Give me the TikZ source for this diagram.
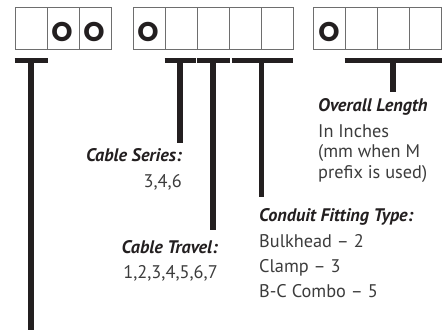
\documentclass[tikz,border=0pt]{standalone}
\usepackage{fontspec}
\setmainfont{PT Sans}
\newfontfamily\cellfont{Poppins}[BoldFont={Poppins Bold}]
\usetikzlibrary{calc}
\definecolor{barblack}{HTML}{231F20}
\definecolor{cellgray}{HTML}{6E6E6E}
\definecolor{bodygray}{HTML}{3C3C3C}

\begin{document}
\begin{tikzpicture}[line cap=butt,line join=miter,x=1pt,y=-1pt,
  cell/.style={draw=cellgray,line width=1pt,minimum width=32pt,minimum height=41.5pt,inner sep=0pt},
  digit/.style={font=\cellfont\bfseries\fontsize{27}{27}\selectfont,inner sep=0pt,text=barblack},
  bar/.style={draw=barblack,line width=5pt},
  stem/.style={draw=barblack,line width=5.5pt},
  title/.style={font=\bfseries\itshape\fontsize{18.2}{18.2}\selectfont,inner sep=0pt,text=barblack},
  body/.style={font=\fontsize{18.3}{18.3}\selectfont,inner sep=0pt,text=bodygray}]
\useasboundingbox (0,0) rectangle (445,333);

% code boxes
\foreach \i/\x in {1/31,2/63,3/95}
  \node[cell] (a\i) at (\x,28.5) {};
\foreach \i/\x in {1/149,2/181,3/213,4/245,5/277}
  \node[cell] (b\i) at (\x,28.5) {};
\foreach \i/\x in {1/329,2/361,3/393,4/425}
  \node[cell] (c\i) at (\x,28.5) {};
\node[digit] (a2o) at ([xshift=-1pt,yshift=-3pt]a2.center) {O};
\node[digit] (a3o) at ([xshift=-1pt,yshift=-3pt]a3.center) {O};
\node[digit] (b1o) at ([xshift=-1pt,yshift=-3pt]b1.center) {O};
\node[digit] (c1o) at ([xshift=0pt,yshift=-3pt]c1.center) {O};

% brackets under the boxes
\draw[bar] ([xshift=0pt,yshift=-10.5pt]a1.south west) -- ([yshift=-10.5pt]a1.south east);
\draw[bar] ([xshift=0pt,yshift=-10.5pt]b2.south west) -- ([xshift=-2pt,yshift=-10.5pt]b2.south east);
\draw[bar] ([xshift=0pt,yshift=-10.5pt]b3.south west) -- ([yshift=-10.5pt]b3.south east);
\draw[bar] ([xshift=3pt,yshift=-10.5pt]b4.south west) -- ([xshift=-1pt,yshift=-10.5pt]b5.south east);
\draw[bar] ([yshift=-10.5pt]c2.south west) -- ([yshift=-10.5pt]c4.south east);

\coordinate (top1) at ([yshift=-10.5pt]a1.south);
\coordinate (top2) at ([xshift=-1pt,yshift=-10.5pt]b2.south);
\coordinate (top3) at ([yshift=-10.5pt]b3.south);
\coordinate (top4) at ([yshift=-10.5pt]b4.south east);
\coordinate (top5) at ([yshift=-10.5pt]c3.south);
\coordinate (end1) at (top1 |- 0,330);
\coordinate (end2) at (top2 |- 0,143);
\coordinate (end3) at (top3 |- 0,230);
\coordinate (end4) at (top4 |- 0,197);
\coordinate (end5) at (top5 |- 0,92);
\foreach \k in {1,...,5}
  \draw[stem] (top\k) -- (end\k);

% labels
\node[title,anchor=base west] (lenT) at (318,111) {Overall Length};
\node[body,anchor=base west] (len1) at (318,137) {In Inches};
\node[body,anchor=base west] (len2) at (318,157.5) {(mm when M};
\node[body,anchor=base west] (len3) at (318,178) {prefix is used)};

\node[title,anchor=base east] (serT) at (182,161) {Cable Series:};
\node[body,anchor=base east] (ser1) at (182,187) {3,4,6};

\node[title,anchor=base east] (travT) at (218,253) {Cable Travel:};
\node[body,anchor=base east] (trav1) at (218,278) {1,2,3,4,5,6,7};

\node[title,anchor=base west] (fitT) at (259,221) {Conduit Fitting Type:};
\node[body,anchor=base west] (fit1) at (259,247) {Bulkhead -- 2};
\node[body,anchor=base west] (fit2) at (259,272) {Clamp -- 3};
\node[body,anchor=base west] (fit3) at (259,297) {B-C Combo -- 5};
\end{tikzpicture}
\end{document}
